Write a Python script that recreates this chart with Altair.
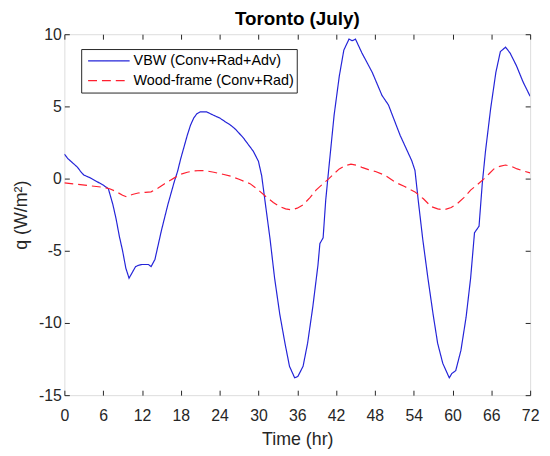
import altair as alt
import pandas as pd

series_names = ["VBW (Conv+Rad+Adv)", "Wood-frame (Conv+Rad)"]
series_colors = ["#2424d8", "#ff1f2f"]
series_dash = [[1, 0], [9, 5]]

t_vbw = [0, 0.5, 1, 1.5, 2, 2.5, 3, 4, 5, 6, 6.8, 7.5, 8, 8.5, 9, 9.5, 10, 10.5, 11, 11.5,
         12, 13, 13.4, 14, 14.5, 15, 15.5, 16, 16.5, 17, 17.5, 18, 18.5, 19, 19.5, 20, 20.5,
         21, 22, 23, 24, 25, 25.7, 26.5, 27.7, 29.2, 30, 30.5, 31, 31.8, 32.5, 33.3, 34.1,
         34.8, 35.6, 36.1, 36.9, 37.6, 38.4, 39.2, 39.5, 40, 40.4, 40.9, 41.7, 42.5, 43.2,
         44, 44.5, 45, 46, 47.6, 49.1, 50.1, 51.9, 53.7, 54.2, 54.7, 55.4, 56.2, 57, 57.7,
         58.5, 59, 59.5, 59.9, 60.5, 61.3, 62.1, 62.8, 63.4, 64.1, 64.6, 65.1, 65.9, 66.7,
         67.4, 68.2, 68.9, 69.9, 70.9, 72]
q_vbw = [1.7, 1.4, 1.2, 1.0, 0.8, 0.5, 0.25, 0.05, -0.2, -0.45, -0.7, -1.8, -2.8, -4.0, -5.0,
         -6.2, -6.9, -6.5, -6.1, -6.0, -5.95, -5.95, -6.1, -5.6, -4.6, -3.6, -2.7, -1.8, -1.0,
         -0.2, 0.5, 1.4, 2.2, 3.0, 3.7, 4.2, 4.5, 4.62, 4.62, 4.4, 4.2, 3.9, 3.7, 3.4, 2.8,
         1.9, 1.2, 0.2, -1.5, -4.2, -6.9, -9.4, -11.4, -13.0, -13.8, -13.7, -13.0, -11.4,
         -8.9, -6.0, -4.5, -4.1, -1.5, 0.8, 4.4, 7.1, 8.9, 9.66, 9.55, 9.66, 8.7, 7.35, 5.76,
         5.1, 3.0, 1.24, 0.56, -1.5, -4.2, -6.9, -9.4, -11.4, -12.8, -13.3, -13.8, -13.5,
         -13.3, -11.9, -9.6, -6.9, -3.75, -3.3, -0.35, 1.9, 4.86, 7.35, 8.8, 9.1, 8.7, 7.8,
         6.7, 5.7]

t_wood = [0, 2, 4, 6, 7, 8, 9, 9.6, 10.5, 11.4, 12.5, 13.4, 14.5, 15.5, 17, 18, 19, 20, 21.1,
          22, 23.1, 24.5, 25.7, 27, 28.7, 30, 31.3, 32.3, 33.3, 34.2, 35.1, 36, 36.9, 38,
          38.9, 40, 40.9, 41.7, 42.5, 43.4, 44.3, 45.2, 46, 47, 48.1, 49.6, 51.1, 52.6, 54.2,
          55.5, 56.7, 57.7, 58.7, 59.8, 60.8, 61.8, 62.8, 63.9, 64.9, 65.7, 66.4, 67.3, 68.2,
          69.1, 70, 71, 72]
q_wood = [-0.3, -0.4, -0.5, -0.6, -0.7, -0.9, -1.15, -1.26, -1.1, -1.0, -0.95, -0.92, -0.65,
          -0.35, 0.05, 0.3, 0.44, 0.53, 0.56, 0.53, 0.44, 0.3, 0.17, -0.05, -0.35, -0.8, -1.3,
          -1.65, -1.94, -2.1, -2.16, -2.05, -1.82, -1.3, -0.8, -0.35, 0.0, 0.35, 0.67, 0.9,
          1.0, 0.92, 0.78, 0.62, 0.49, 0.22, -0.24, -0.55, -0.92, -1.4, -1.94, -2.1, -2.16,
          -2.0, -1.71, -1.3, -0.8, -0.4, 0.0, 0.35, 0.67, 0.85, 0.94, 0.85, 0.67, 0.52, 0.4]

x_ticks = [0, 6, 12, 18, 24, 30, 36, 42, 48, 54, 60, 66, 72]
y_ticks = [-15, -10, -5, 0, 5, 10]

rows = []
for i, (t, q) in enumerate(zip(t_vbw, q_vbw)):
    rows.append({"t": t, "q": q, "series": series_names[0], "idx": i})
for i, (t, q) in enumerate(zip(t_wood, q_wood)):
    rows.append({"t": t, "q": q, "series": series_names[1], "idx": i})
df = pd.DataFrame(rows)

FONT = "Liberation Sans"
AX = "#262626"

xscale = alt.Scale(domain=[0, 72], nice=False, zero=False)
yscale = alt.Scale(domain=[-15, 10], nice=False, zero=False)

legend = alt.Legend(
    title=None, orient="none", legendX=17, legendY=15,
    strokeColor=AX, fillColor="white", padding=2, symbolOffset=4,
    symbolType="stroke", symbolSize=1764, symbolStrokeWidth=1.2,
    clipHeight=20, rowPadding=0, labelFont=FONT, labelFontSize=14.5,
    labelColor="black", labelOffset=3, labelLimit=400,
)

common_axis = dict(domain=False, grid=False, offset=-5, tickSize=5, tickColor=AX,
                   labelFont=FONT, labelFontSize=16, labelColor=AX, labelFlush=False,
                   titleFont=FONT, titleFontSize=18, titleColor=AX, titleFontWeight="normal")

lines = alt.Chart(df).mark_line(strokeWidth=1.2, clip=True).encode(
    x=alt.X("t:Q", scale=xscale,
            axis=alt.Axis(values=x_ticks, title="Time (hr)", labelPadding=13,
                          labelExpr="'' + datum.value", titleBaseline="alphabetic",
                          titleY=55, **common_axis)),
    y=alt.Y("q:Q", scale=yscale,
            axis=alt.Axis(values=y_ticks, title="q (W/m²)", labelPadding=3,
                          labelExpr="'' + datum.value", titleBaseline="alphabetic",
                          titleX=-43, **common_axis)),
    color=alt.Color("series:N", scale=alt.Scale(domain=series_names, range=series_colors),
                    legend=legend),
    strokeDash=alt.StrokeDash("series:N", scale=alt.Scale(domain=series_names, range=series_dash),
                              legend=legend),
    order="idx:Q",
)

frame_ticks = alt.Chart(df).mark_line(strokeOpacity=0).encode(
    x=alt.X("t:Q", scale=xscale,
            axis=alt.Axis(orient="top", values=x_ticks, labels=False, title=None,
                          domain=False, grid=False, offset=-5, tickSize=5, tickColor=AX)),
    y=alt.Y("q:Q", scale=yscale,
            axis=alt.Axis(orient="right", values=y_ticks, labels=False, title=None,
                          domain=False, grid=False, offset=-5, tickSize=5, tickColor=AX)),
    detail="series:N",
)

chart = alt.layer(lines, frame_ticks).resolve_axis(x="independent", y="independent").properties(
    width=471, height=365,
    title=alt.TitleParams("Toronto (July)", font=FONT, fontSize=19, fontWeight="bold",
                          color="black", anchor="middle", offset=9, dy=12),
    autosize=alt.AutoSizeParams(type="none"),
    padding={"left": 57, "top": 24, "right": 12, "bottom": 58},
).configure_view(stroke=AX, strokeWidth=1).configure(background="white")

chart.save("out.html", embed_options={"renderer": "svg", "actions": False})
